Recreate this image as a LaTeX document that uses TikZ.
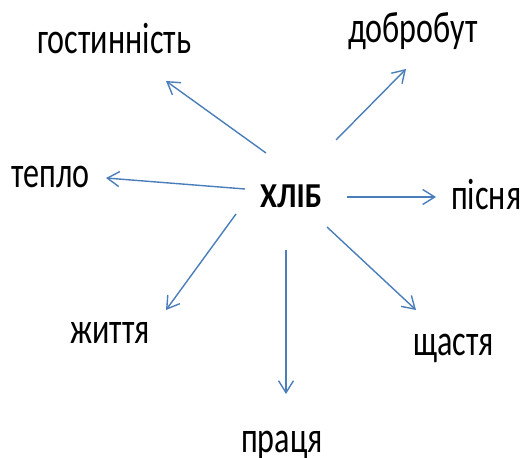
\documentclass[tikz,border=0pt]{standalone}
\usepackage{fontspec}
\setmainfont{Carlito}
\newfontfamily\wordfont[FakeStretch=0.73]{Carlito}
\newfontfamily\headfont[FakeStretch=0.88]{Carlito}
\usepackage{tikz}
\usetikzlibrary{arrows.meta}
\definecolor{xarrow}{HTML}{4A7EBB}

\begin{document}
\begin{tikzpicture}[
    x=1pt, y=-1pt,
    >={Straight Barb[length=12pt,width=15pt]},
    word/.style={anchor=base west, inner sep=0pt, font=\wordfont\fontsize{44}{50}\selectfont},
    head/.style={anchor=base west, inner sep=0pt, font=\headfont\bfseries\fontsize{35}{40}\selectfont},
    ray/.style={->, line width=1.4pt, draw=xarrow},
]
\useasboundingbox (0,0) rectangle (521,457);

% Centre word
\node[head] (hlib) at (260,207) {ХЛІБ};

% Words round it
\foreach \name/\x/\y/\txt in {
    gost/37/54/гостинність,
    dobro/348/43/добробут,
    teplo/11/187/тепло,
    pisnia/451/209/пісня,
    zhyttia/70/343/життя,
    shchastia/413/355/щастя,
    pratsia/241/452/праця%
} {
    \node[word] (\name) at (\x,\y) {\txt};
}

% Arrows
\foreach \name/\sx/\sy/\ex/\ey in {
    gost/266/153/166/81,
    dobro/336/140/406/69,
    teplo/245/189/106/178,
    pisnia/347/197/436/197,
    zhyttia/236/214/166/310,
    pratsia/286/250/286/394,
    shchastia/327/227/416/310%
} {
    \coordinate (\name-from) at (\sx,\sy);
    \coordinate (\name-to) at (\ex,\ey);
    \draw[ray] (\name-from) -- (\name-to);
}

\end{tikzpicture}
\end{document}
